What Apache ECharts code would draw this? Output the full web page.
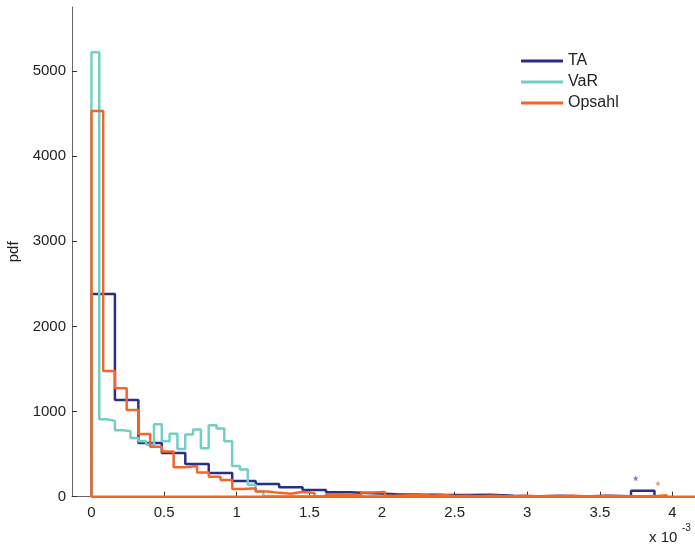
<!DOCTYPE html>
<html><head><meta charset="utf-8">
<script src="https://cdn.jsdelivr.net/npm/echarts@6/dist/echarts.min.js"></script>
<style>html,body{margin:0;padding:0;background:#fff}#c{width:695px;height:546px}</style>
</head><body><div id="c"></div>
<script>
// ---- data (x in units of 1e-3) ----
const seriesNames = ['TA', 'VaR', 'Opsahl'];
const taBinWidth = 0.1615;
const taValues = [2380, 1135, 630, 512, 385, 278, 185, 150, 110, 79, 52, 40, 30, 25, 22, 20, 24, 12, 3, 12, 3, 12, 4, 70];
const varBinWidth = 0.0538;
const varValues = [5220, 910, 890, 780, 770, 690, 650, 610, 850, 650, 740, 560, 730, 790, 570, 840, 800, 650, 360, 320, 140, 60,
  8, 6, 5, 7, 6, 5, 6, 8, 5, 6, 7, 5, 6, 5, 7, 6, 5, 6, 5, 6, 7, 5, 6, 5, 6, 5, 4, 6, 5, 6, 5, 4, 5, 6, 5, 4, 5, 6, 5, 4, 5, 4, 5, 6, 4, 5, 4, 5, 5, 8];
const opsBinWidth = 0.0808;
const opsValues = [4530, 1475, 1272, 1018, 735, 587, 530, 345, 360, 285, 235, 196, 90, 99, 62, 45, 35, 58, 42, 2, 28, 18, 22, 50, 55,
  10, 18, 25, 12, 20, 8, 10, 6, 12, 8, 5, 10, 6, 8, 5, 10, 6, 5, 8, 5, 6, 4, 6, 18];
const taStar = [3.747, 216];
const opsStar = [3.90, 157];
const xTicks = [0, 0.5, 1, 1.5, 2, 2.5, 3, 3.5, 4];
const yTicks = [0, 1000, 2000, 3000, 4000, 5000];

// ---- layout / style ----
const X_MIN = -0.134, X_MAX = 4.155, Y_MAX = 5750;
const colors = ['#2b2e85', '#72cfc5', '#f4652a'];
const FONT = 'Liberation Sans, Arial, sans-serif';

function stepPoints(w, vals) {
  const pts = [[0, 0]];
  vals.forEach((v, i) => { pts.push([i * w, v]); pts.push([(i + 1) * w, v]); });
  pts.push([vals.length * w, 0]);
  return pts;
}
const taPts = stepPoints(taBinWidth, taValues);
const varPts = stepPoints(varBinWidth, varValues);
const opsPts = [[X_MAX, 0]].concat(stepPoints(opsBinWidth, opsValues));

const chart = echarts.init(document.getElementById('c'), null, {renderer: 'canvas'});
const lineBase = {type: 'line', showSymbol: false, symbol: 'none', animation: false, lineStyle: {width: 2.5}, emphasis: {disabled: true}};
const starPath = 'path://M50,0 L61,35 L98,35 L68,57 L79,91 L50,70 L21,91 L32,57 L2,35 L39,35 Z';
chart.setOption({
  animation: false,
  textStyle: {fontFamily: FONT},
  grid: {left: 72, right: 0, top: 7, bottom: 49.3, containLabel: false, outerBoundsMode: 'none'},
  legend: {
    data: seriesNames, orient: 'vertical', left: 516, top: 48, itemWidth: 42, itemHeight: 3, icon: 'rect',
    itemGap: 5, textStyle: {fontSize: 16, color: '#222', fontFamily: FONT}
  },
  xAxis: {
    type: 'value', min: X_MIN, max: X_MAX,
    axisLine: {show: true, onZero: false, lineStyle: {color: '#666', width: 1}},
    axisTick: {show: true, inside: true, length: 5, lineStyle: {color: '#333'}, customValues: xTicks},
    axisLabel: {fontSize: 15, color: '#222', margin: 9, customValues: xTicks, formatter: v => String(v)},
    splitLine: {show: false}
  },
  yAxis: {
    type: 'value', min: 0, max: Y_MAX,
    name: 'pdf', nameLocation: 'middle', nameGap: 43, nameTextStyle: {fontSize: 15, color: '#222'},
    axisLine: {show: true, onZero: false, lineStyle: {color: '#666', width: 1}},
    axisTick: {show: true, inside: true, length: 5, lineStyle: {color: '#333'}, customValues: yTicks},
    axisLabel: {fontSize: 15, color: '#222', margin: 6, customValues: yTicks, formatter: v => String(v)},
    splitLine: {show: false}
  },
  series: [
    Object.assign({}, lineBase, {name: seriesNames[0], data: taPts, color: colors[0]}),
    Object.assign({}, lineBase, {name: seriesNames[1], data: varPts, color: colors[1]}),
    Object.assign({}, lineBase, {name: seriesNames[2], data: opsPts, color: colors[2]}),
    {type: 'scatter', name: 'TA max', data: [taStar], symbol: starPath, symbolSize: 6, itemStyle: {color: '#5a5ca8'}, animation: false},
    {type: 'scatter', name: 'Opsahl max', data: [opsStar], symbol: starPath, symbolSize: 6, itemStyle: {color: '#f47a45'}, animation: false}
  ],
  graphic: [
    {type: 'text', left: 649, top: 530, style: {text: 'x 10', fontSize: 15, fill: '#222', fontFamily: FONT}},
    {type: 'text', left: 682, top: 523, style: {text: '-3', fontSize: 10, fill: '#222', fontFamily: FONT}}
  ]
});
</script></body></html>
